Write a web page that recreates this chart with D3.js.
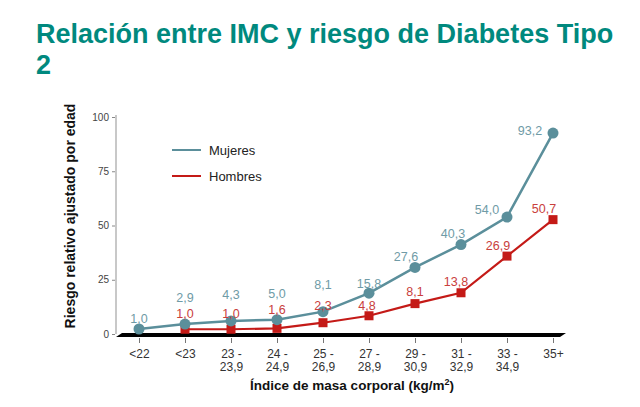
<!DOCTYPE html>
<html><head><meta charset="utf-8">
<script src="https://cdn.jsdelivr.net/npm/d3@7"></script>
<style>
body{margin:0;background:#fff;}
svg{font-family:Arial,"Liberation Sans",sans-serif;}
</style></head>
<body><svg id="c" width="640" height="407"></svg>
<script>
// ---- data ----
const categories = ["<22","<23","23 -|23,9","24 -|24,9","25 -|26,9","27 -|28,9","29 -|30,9","31 -|32,9","33 -|34,9","35+"];
const mujeresValues = [2.3, 4.6, 6.0, 6.6, 10.3, 18.8, 30.7, 41.2, 53.9, 92.6];
const mujeresLabels = ["1,0","2,9","4,3","5,0","8,1","15,8","27,6","40,3","54,0","93,2"];
const hombresValues = [null, 2.2, 2.2, 2.6, 5.2, 8.4, 14.0, 19.0, 35.9, 52.7];
const hombresLabels = [null, "1,0","1,0","1,6","2,3","4,8","8,1","13,8","26,9","50,7"];
const yTicks = [0, 25, 50, 75, 100];
const seriesNames = ["Mujeres", "Hombres"];

// ---- layout/style ----
const colM = "#5b8f9b", colMText = "#6f9ba6";
const colH = "#c41a17", colHText = "#c9403c";
const mLabelDx = [0,0,0,0,0,0,-9,-8,-20,-23];
const mLabelDy = [-11,-27,-27,-27,-28,-10,-11,-12,-8,-3];
const hLabelDx = [0,0,0,0,0,-2,0,-5,-9,-9];
const hLabelDy = [0,-16,-16,-19,-18,-11,-13,-12,-11,-12];

const svg = d3.select("#c");
const x = d3.scalePoint().domain(d3.range(categories.length)).range([139, 553]);
const y = d3.scaleLinear().domain([0, 100]).range([334, 117]);

// title
const title = svg.append("text").attr("fill", "#00897e").attr("font-size", 27).attr("font-weight", "bold");
title.append("tspan").attr("x", 36).attr("y", 43).text("Relación entre IMC y riesgo de Diabetes Tipo");
title.append("tspan").attr("x", 36).attr("y", 74).text("2");

// y axis
svg.append("line").attr("x1", 116).attr("x2", 116).attr("y1", y(100) - 2).attr("y2", y(0))
  .attr("stroke", "#c8c8c8").attr("stroke-width", 2);
const yg = svg.append("g").attr("transform", "translate(115,0)")
  .call(d3.axisLeft(y).tickValues(yTicks).tickSize(3).tickPadding(3));
yg.select(".domain").remove();
yg.selectAll(".tick line").attr("stroke", "#888");
yg.selectAll(".tick text").attr("font-size", 10).attr("fill", "#444").attr("font-family", "Arial, Liberation Sans, sans-serif");

// x axis thick bar
const x0 = 116, x1 = 566, yb = y(0);
svg.append("path").attr("d", `M${x0},${yb+3} L${x0+6},${yb-1} L${x1},${yb-1} L${x1-6},${yb+3} Z`).attr("fill", "#000");
const xg = svg.append("g").attr("transform", `translate(0,${yb+4})`)
  .call(d3.axisBottom(x).tickSize(5).tickPadding(4).tickFormat(() => ""));
xg.select(".domain").remove();
xg.selectAll(".tick line").attr("stroke", "#777");
xg.selectAll(".tick").each(function(d) {
  const parts = categories[d].split("|");
  const t = d3.select(this).append("text").attr("fill", "#333").attr("font-size", 12)
    .attr("text-anchor", "middle").attr("font-family", "Arial, Liberation Sans, sans-serif");
  parts.forEach((p, i) => t.append("tspan").attr("x", 0).attr("y", 20 + i * 13).text(p));
});

// axis titles
svg.append("text").attr("x", 352).attr("y", 390).attr("text-anchor", "middle")
  .attr("font-size", 13.5).attr("font-weight", "bold").attr("fill", "#111")
  .html("Índice de masa corporal (kg/m<tspan font-size='9' dy='-5'>2</tspan><tspan dy='5'>)</tspan>");
svg.append("text").attr("transform", "translate(75,216) rotate(-90)").attr("text-anchor", "middle")
  .attr("font-size", 14).attr("font-weight", "bold").attr("fill", "#111")
  .text("Riesgo relativo ajustado por edad");

// lines
const line = d3.line().defined(d => d[1] != null).x(d => x(d[0])).y(d => y(d[1]));
const mData = mujeresValues.map((v, i) => [i, v]);
const hData = hombresValues.map((v, i) => [i, v]);
svg.append("path").datum(hData).attr("d", line).attr("fill", "none").attr("stroke", colH).attr("stroke-width", 2.2);
svg.append("path").datum(mData).attr("d", line).attr("fill", "none").attr("stroke", colM).attr("stroke-width", 2.5);

svg.selectAll(".hm").data(hData.filter(d => d[1] != null)).enter().append("rect")
  .attr("x", d => x(d[0]) - 4.5).attr("y", d => y(d[1]) - 4.5).attr("width", 9).attr("height", 9).attr("fill", colH);
svg.selectAll(".mm").data(mData).enter().append("circle")
  .attr("cx", d => x(d[0])).attr("cy", d => y(d[1])).attr("r", 5.5).attr("fill", colM);

// value labels
svg.selectAll(".ml").data(mData).enter().append("text")
  .attr("x", d => x(d[0]) + mLabelDx[d[0]]).attr("y", d => y(d[1]) + mLabelDy[d[0]] + 5)
  .attr("text-anchor", "middle").attr("font-size", 12.5).attr("fill", colMText)
  .text(d => mujeresLabels[d[0]]);
svg.selectAll(".hl").data(hData.filter(d => d[1] != null)).enter().append("text")
  .attr("x", d => x(d[0]) + hLabelDx[d[0]]).attr("y", d => y(d[1]) + hLabelDy[d[0]] + 5)
  .attr("text-anchor", "middle").attr("font-size", 12.5).attr("fill", colHText)
  .text(d => hombresLabels[d[0]]);

// legend
const lg = svg.append("g");
[[seriesNames[0], colM, 150], [seriesNames[1], colH, 176]].forEach(([n, c, ly]) => {
  lg.append("line").attr("x1", 172).attr("x2", 201).attr("y1", ly).attr("y2", ly).attr("stroke", c).attr("stroke-width", 2);
  lg.append("text").attr("x", 209).attr("y", ly + 5).attr("font-size", 13).attr("fill", "#222").text(n);
});
</script></body></html>
